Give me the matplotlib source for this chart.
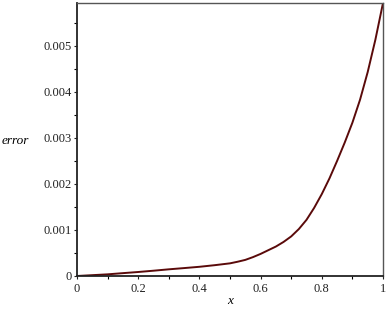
import matplotlib
matplotlib.use("Agg")
import matplotlib.pyplot as plt
from matplotlib.ticker import MultipleLocator

x_vals = [0.0, 0.05, 0.1, 0.15, 0.2, 0.25, 0.3, 0.35, 0.4, 0.45, 0.5,
          0.525, 0.55, 0.575, 0.6, 0.625, 0.65, 0.675, 0.7, 0.725, 0.75,
          0.775, 0.8, 0.825, 0.85, 0.875, 0.9, 0.925, 0.95, 0.975, 1.0]
err_vals = [0.0, 0.000018, 0.000036, 0.000062, 0.000087, 0.000115, 0.000145,
            0.000172, 0.000200, 0.000235, 0.000275,
            0.000310, 0.000350, 0.000410, 0.000480, 0.000560, 0.000640,
            0.000740, 0.000860, 0.001020, 0.001220,
            0.001480, 0.001780, 0.002120, 0.002500, 0.002900, 0.003330,
            0.003830, 0.004430, 0.005130, 0.005930]

x_ticks = [0, 0.2, 0.4, 0.6, 0.8, 1]
x_tick_labels = ["0", "0.2", "0.4", "0.6", "0.8", "1"]
y_ticks = [0, 0.001, 0.002, 0.003, 0.004, 0.005]
y_tick_labels = ["0", "0.001", "0.002", "0.003", "0.004", "0.005"]

plt.rcParams['font.family'] = ['Liberation Serif', 'DejaVu Serif']

fig = plt.figure(figsize=(3.87, 3.10), dpi=100)
ax = fig.add_axes([77/387, 1 - 276/310, (383 - 77)/387, (276 - 3)/310])

ax.plot(x_vals, err_vals, color='#5a0a0a', lw=1.4, solid_capstyle='round',
        solid_joinstyle='round')

ax.set_xlim(0, 1)
ax.set_ylim(0, 0.00593)
ax.set_xticks(x_ticks)
ax.set_xticklabels(x_tick_labels)
ax.set_yticks(y_ticks)
ax.set_yticklabels(y_tick_labels)
ax.xaxis.set_minor_locator(MultipleLocator(0.1))
ax.yaxis.set_minor_locator(MultipleLocator(0.0005))

ax.tick_params(axis='both', which='major', direction='out', length=2.5, width=0.8,
               labelsize=9, pad=1.5, colors='#222222')
ax.tick_params(axis='both', which='minor', direction='out', length=2.0, width=0.8)
ax.tick_params(axis='x', which='major', pad=2.5)

for side in ['left', 'bottom']:
    ax.spines[side].set_linewidth(1.3)
    ax.spines[side].set_color('#222222')
for side in ['top', 'right']:
    ax.spines[side].set_linewidth(1.0)
    ax.spines[side].set_color('#555555')

fig.text(2/387, 1 - 141/310, "error", fontsize=9.5, style='italic', va='center', ha='left')
fig.text(230/387, 1 - 301/310, "x", fontsize=9.5, style='italic', va='center', ha='center')

fig.savefig("out.png", dpi=100)
